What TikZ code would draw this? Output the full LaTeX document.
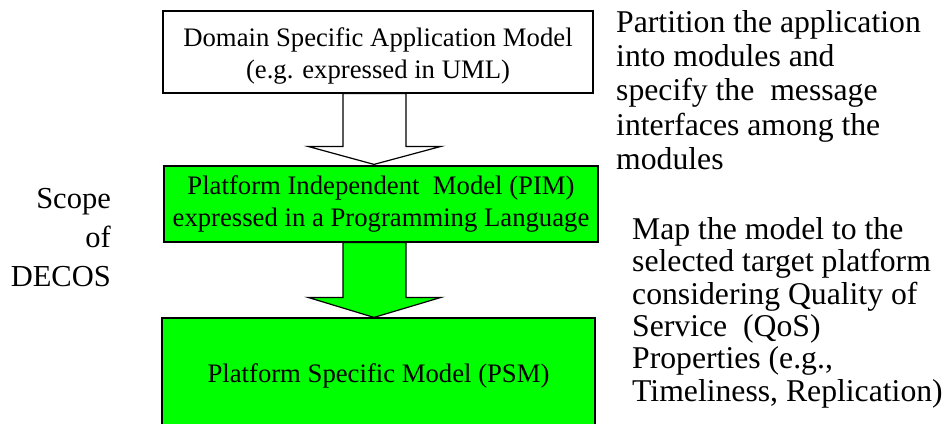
\documentclass[tikz,border=0pt]{standalone}
\usepackage{fontspec}
\setmainfont{Liberation Serif}
\usetikzlibrary{calc}
\definecolor{modelgreen}{RGB}{0,255,0}
% two centred lines, set a little below the middle of their box
\newcommand{\lowtwolines}[2]{\raisebox{-4pt}[\height][\depth]{\begin{tabular}{@{}c@{}}#1\\#2\end{tabular}}}
\begin{document}
\begin{tikzpicture}[x=1pt,y=-1pt,
  model/.style={draw=black, line width=1.2pt, align=center, inner sep=0pt,
    font=\fontsize{26.7}{31.6}\selectfont},
  blockarrow/.style={draw=black, line width=1.2pt, line join=miter},
  note/.style={inner sep=0pt, align=left, font=\fontsize{31.7}{34.2}\selectfont},
  scopelabel/.style={inner sep=0pt, align=right, font=\fontsize{30.5}{39}\selectfont}]
\useasboundingbox (0,0) rectangle (947,423);
\clip (0,0) rectangle (947,423);

% model boxes
\node[model, fill=white, minimum width=430pt, minimum height=82pt] (dsam) at (378,52)
  {\lowtwolines{Domain Specific Application Model}{(e.g. expressed in UML)}};
\node[model, fill=modelgreen, minimum width=434pt, minimum height=76pt] (pim) at (381,204)
  {Platform Independent\ \ Model (PIM)\\expressed in a Programming Language};
\node[model, fill=modelgreen, minimum width=433pt, minimum height=115pt] (psm) at (378.5,375.5)
  {Platform Specific Model (PSM)};

% axis of the block arrows
\coordinate (ax) at (374.5,0);

% hollow block arrow: application model -> PIM
\draw[blockarrow, fill=white]
  ($(ax |- dsam.south)+(-31.5,0)$) -- ($(ax |- pim.north)+(-31.5,-19)$)
  -- ($(ax |- pim.north)+(-66.5,-19)$) -- ($(ax |- pim.north)+(-0.5,-1)$)
  -- ($(ax |- pim.north)+(66.5,-19)$) -- ($(ax |- pim.north)+(31.5,-19)$)
  -- ($(ax |- dsam.south)+(31.5,0)$) -- cycle;

% green block arrow: PIM -> PSM
\draw[blockarrow, fill=modelgreen]
  ($(ax |- pim.south)+(-31.5,0)$) -- ($(ax |- psm.north)+(-31.5,-20)$)
  -- ($(ax |- psm.north)+(-66.5,-20)$) -- ($(ax |- psm.north)+(-0.5,0)$)
  -- ($(ax |- psm.north)+(66.5,-20)$) -- ($(ax |- psm.north)+(31.5,-20)$)
  -- ($(ax |- pim.south)+(31.5,0)$) -- cycle;

% side annotations
\node[scopelabel, anchor=north east] (scope) at (111,188.4)
  {Scope\\of\hspace*{0.25em}\\DECOS};
\node[note, anchor=north west] (partition) at (616,10.3)
  {Partition the application\\into modules and\\specify the\ \ message\\interfaces among the\\modules};
\node[note, anchor=north west, font=\fontsize{31.7}{32.3}\selectfont] (mapping) at (632,217.3)
  {Map the model to the\\selected target platform\\considering Quality of\\Service\ \ (QoS)\\Properties (e.g.,\\Timeliness, Replication)};
\end{tikzpicture}
\end{document}
